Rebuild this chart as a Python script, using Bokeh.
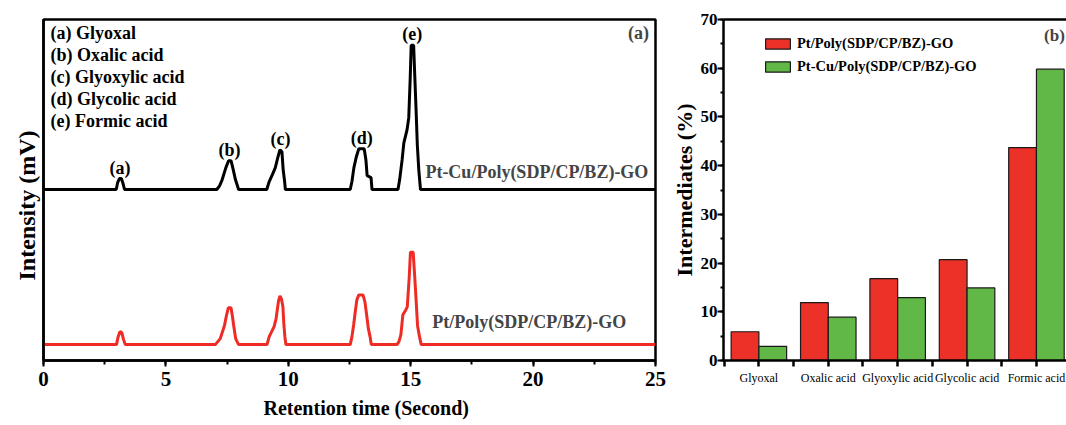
from bokeh.plotting import figure
from bokeh.layouts import row
from bokeh.models import (Range1d, Label, LinearAxis, FixedTicker, SingleIntervalTicker,
                          ColumnDataSource, Legend, LegendItem, Title)
from bokeh.embed import file_html
from bokeh.resources import INLINE
from bokeh.core.properties import value
from bokeh.transform import dodge

# ---------------- data: panel (a) chromatograms ----------------
ptcu_time = [0, 2.97, 3.03, 3.1, 3.18, 3.25, 3.31,
             7.08, 7.2, 7.3, 7.45, 7.56, 7.66, 7.75, 7.84, 7.97,
             9.12, 9.22, 9.35, 9.47, 9.57, 9.66, 9.74, 9.79, 9.85, 9.88,
             12.53, 12.6, 12.68, 12.78, 12.88, 13.1, 13.17, 13.22, 13.38, 13.42,
             14.48, 14.55, 14.65, 14.72, 14.85, 14.92, 14.98, 15.02, 15.12, 15.17, 15.22, 15.27, 15.33, 15.4,
             25]
ptcu_signal = [0, 0, 7, 11, 11, 6, 0,
               0, 4, 10, 22, 29, 29, 20, 10, 0,
               0, 8, 15, 22, 32, 40, 38, 20, 8, 0,
               0, 8, 22, 33, 41, 41, 30, 14, 12, 0,
               0, 10, 30, 47, 60, 72, 112, 145, 145, 112, 80, 45, 20, 0,
               0]

pt_time = [0, 2.98, 3.05, 3.12, 3.2, 3.27, 3.34,
           7.02, 7.22, 7.39, 7.48, 7.55, 7.66, 7.72, 7.77, 7.85, 7.97,
           9.13, 9.22, 9.3, 9.42, 9.5, 9.6, 9.66, 9.72, 9.78, 9.82, 9.86, 9.9,
           12.53, 12.6, 12.67, 12.73, 12.8, 12.88, 13.05, 13.13, 13.2, 13.27, 13.34, 13.39,
           14.44, 14.52, 14.6, 14.68, 14.78, 14.86, 14.94, 14.99, 15.1, 15.16, 15.22, 15.28, 15.36, 15.43,
           25]
pt_signal = [0, 0, 8, 13, 12, 5, 0,
             0, 6, 19, 30, 37, 37, 28, 19, 6, 0,
             0, 8, 12, 18, 26, 44, 49, 46, 38, 20, 8, 0,
             0, 8, 20, 32, 45, 50, 50, 43, 30, 16, 8, 0,
             0, 3, 10, 30, 34, 38, 68, 93, 93, 70, 45, 19, 8, 0,
             0]

peak_letters = ["(a)", "(b)", "(c)", "(d)", "(e)"]
peak_times = [3.12, 7.6, 9.68, 13.0, 15.06]
compound_names = ["Glyoxal", "Oxalic acid", "Glyoxylic acid", "Glycolic acid", "Formic acid"]

# ---------------- data: panel (b) bars ----------------
catalysts = ["Pt/Poly(SDP/CP/BZ)-GO", "Pt-Cu/Poly(SDP/CP/BZ)-GO"]
pt_pct = [5.9, 11.9, 16.8, 20.7, 43.7]
ptcu_pct = [2.9, 8.9, 12.9, 14.9, 59.8]

# ---------------- styles ----------------
FONT = "Liberation Serif"
RED_LINE = "#EE2B24"
RED_BAR = "#EC3128"
GREEN_BAR = "#62B847"
BLACK_OFFSET = 156

# ================= panel (a) =================
p1 = figure(width=668, height=425, x_range=Range1d(0, 25), y_range=Range1d(-16, 327),
            output_backend="svg", toolbar_location=None, title=None,
            min_border_left=43, min_border_right=13, min_border_top=19, min_border_bottom=63)
p1.grid.visible = False
p1.outline_line_color = "black"
p1.outline_line_width = 2.5

p1.xaxis.ticker = SingleIntervalTicker(interval=5, num_minor_ticks=2)
p1.xaxis.axis_line_width = 2.5
p1.xaxis.major_tick_line_width = 2
p1.xaxis.minor_tick_line_width = 2
p1.xaxis.major_tick_out = 6
p1.xaxis.major_tick_in = 0
p1.xaxis.minor_tick_out = 4
p1.xaxis.minor_tick_in = 0
p1.xaxis.major_label_text_font = FONT
p1.xaxis.major_label_text_font_style = "bold"
p1.xaxis.major_label_text_font_size = "21px"
p1.xaxis.major_label_text_color = "black"
p1.xaxis.major_label_standoff = 5

p1.yaxis.ticker = FixedTicker(ticks=[])
p1.yaxis.axis_line_width = 2.5

p1.add_layout(Title(text="Retention time (Second)", align="left", offset=220, standoff=5,
                    vertical_align="top", padding=dict(left=0, right=0, top=6, bottom=0),
                    text_font=FONT, text_font_style="bold", text_font_size="20px",
                    text_color="black"), "below")
p1.add_layout(Title(text="Intensity (mV)", align="left", offset=80, standoff=8,
                    text_font=FONT, text_font_style="bold", text_font_size="24px",
                    text_color="black"), "left")

p1.line(pt_time, pt_signal, line_color=RED_LINE, line_width=3)
p1.line(ptcu_time, [v + BLACK_OFFSET for v in ptcu_signal], line_color="black", line_width=3)

# peak labels above the black trace
peak_tops = []
for t0 in peak_times:
    peak_tops.append(max(s for t, s in zip(ptcu_time, ptcu_signal) if abs(t - t0) < 0.4))
p1.text(x=peak_times, y=[BLACK_OFFSET + h + 1 for h in peak_tops], text=peak_letters,
        text_align="center", text_baseline="bottom", text_font=value(FONT),
        text_font_style="bold", text_font_size="18px", text_color="black")

for i, (lt, nm) in enumerate(zip(peak_letters, compound_names)):
    p1.add_layout(Label(x=7, y=328 - i * 22.2, x_units="screen", y_units="screen",
                        text=f"{lt} {nm}", text_font=FONT, text_font_style="bold",
                        text_font_size="18px", text_baseline="middle", text_color="black"))

p1.add_layout(Label(x=595, y=328, x_units="screen", y_units="screen", text="(a)",
                    text_font=FONT, text_font_style="bold", text_font_size="18px",
                    text_align="center", text_baseline="middle"))
p1.add_layout(Label(x=15.6, y=BLACK_OFFSET + 18, text=catalysts[1], text_font=FONT,
                    text_font_style="bold", text_font_size="18px", text_baseline="middle"))
p1.add_layout(Label(x=15.88, y=23, text=catalysts[0], text_font=FONT,
                    text_font_style="bold", text_font_size="18px", text_baseline="middle"))

# ================= panel (b) =================
p2 = figure(width=398, height=425, x_range=Range1d(-0.51, 4.433), y_range=Range1d(0, 70),
            output_backend="svg", toolbar_location=None, title=None,
            min_border_left=52, min_border_right=0, min_border_top=16, min_border_bottom=65)
p2.grid.visible = False
p2.outline_line_color = None

p2.yaxis.ticker = SingleIntervalTicker(interval=10, num_minor_ticks=2)
p2.yaxis.axis_line_width = 2.5
p2.yaxis.major_tick_line_width = 2
p2.yaxis.minor_tick_line_width = 2
p2.yaxis.major_tick_out = 6
p2.yaxis.major_tick_in = 0
p2.yaxis.minor_tick_out = 3
p2.yaxis.minor_tick_in = 0
p2.yaxis.major_label_standoff = 0
p2.yaxis.major_label_text_font = FONT
p2.yaxis.major_label_text_font_style = "bold"
p2.yaxis.major_label_text_font_size = "17px"
p2.yaxis.major_label_text_color = "black"
p2.yaxis.axis_label = "Intermediates (%)"
p2.yaxis.axis_label_text_font = FONT
p2.yaxis.axis_label_text_font_style = "bold"
p2.yaxis.axis_label_text_font_size = "22px"
p2.yaxis.axis_label_text_color = "black"
p2.yaxis.axis_label_standoff = 1

xb = p2.below[0]
xb.ticker = FixedTicker(ticks=list(range(len(compound_names))),
                        minor_ticks=[i - 0.5 for i in range(len(compound_names))])
xb.major_label_overrides = {i: n for i, n in enumerate(compound_names)}
xb.axis_line_width = 2.5
xb.major_tick_line_width = 2.5
xb.minor_tick_line_width = 2.5
xb.major_tick_out = 6
xb.major_tick_in = 0
xb.minor_tick_out = 6
xb.minor_tick_in = 0
xb.major_label_standoff = 4
xb.major_label_text_font = FONT
xb.major_label_text_font_size = "12px"
xb.major_label_text_color = "black"

top_axis = LinearAxis(ticker=FixedTicker(ticks=[]), axis_line_width=2.5,
                      major_label_text_font_size="0px")
p2.add_layout(top_axis, "above")

src = ColumnDataSource(dict(idx=list(range(len(compound_names))), pt=pt_pct, ptcu=ptcu_pct))
r_pt = p2.vbar(x=dodge("idx", -0.2, range=p2.x_range), top="pt", width=0.4, source=src,
               fill_color=RED_BAR, line_color="#1a1a1a", line_width=1.2)
r_cu = p2.vbar(x=dodge("idx", 0.2, range=p2.x_range), top="ptcu", width=0.4, source=src,
               fill_color=GREEN_BAR, line_color="#1a1a1a", line_width=1.2)

legend = Legend(items=[LegendItem(label=catalysts[0], renderers=[r_pt]),
                       LegendItem(label=catalysts[1], renderers=[r_cu])],
                location=(39, 285), glyph_width=31, glyph_height=13, label_height=14,
                spacing=6, padding=0, margin=0, border_line_color=None,
                background_fill_alpha=0, label_text_font=FONT, label_text_font_style="bold",
                label_text_font_size="14.5px", label_standoff=4, label_text_color="black")
p2.add_layout(legend)

p2.add_layout(Label(x=331, y=325, x_units="screen", y_units="screen", text="(b)",
                    text_font=FONT, text_font_style="bold", text_font_size="17px",
                    text_align="center", text_baseline="middle"))

layout = row(p1, p2)
open("out.html", "w").write(file_html(layout, INLINE))
